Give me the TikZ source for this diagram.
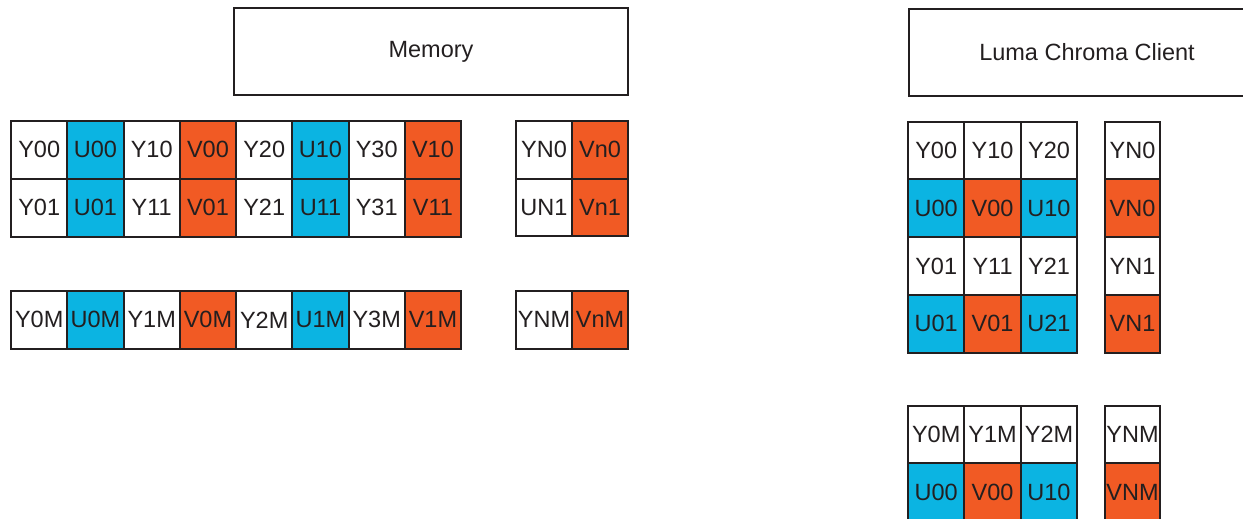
\documentclass[tikz,border=0pt]{standalone}
\usepackage{fontspec}
\setmainfont{Liberation Sans}
\usetikzlibrary{positioning}
\definecolor{Ink}{HTML}{231F20}
\definecolor{UBlue}{HTML}{0BB4E2}
\definecolor{VOrange}{HTML}{F15A24}

\begin{document}
\begin{tikzpicture}[x=1pt, y=-1pt, every node/.style={font=\fontsize{23.5}{27}\selectfont, text=Ink},
  cell/.style={draw=Ink, line width=2pt, minimum width=56.4pt, minimum height=57.7pt, inner sep=0pt, outer sep=0pt, anchor=north west},
  ycell/.style={cell, fill=white}, ucell/.style={cell, fill=UBlue}, vcell/.style={cell, fill=VOrange},
  titlebox/.style={draw=Ink, line width=2pt, minimum height=87pt, inner sep=0pt, anchor=north west}]
\useasboundingbox (0,0) rectangle (1243,519);
\clip (0,0) rectangle (1243,519);
% headers
\node[titlebox, minimum width=394pt] (memory) at (233,7) {Memory};
\node[titlebox, minimum width=356pt] (client) at (908,8) {Luma Chroma Client};
% memory layout: interleaved rows
\foreach \s/\lab [count=\c from 0] in {ycell/Y00, ucell/U00, ycell/Y10, vcell/V00, ycell/Y20, ucell/U10, ycell/Y30, vcell/V10}
  \node[\s] (mem-0-\c) at (11+\c*56.25, 121) {\lab};
\foreach \s/\lab [count=\c from 0] in {ycell/Y01, ucell/U01, ycell/Y11, vcell/V01, ycell/Y21, ucell/U11, ycell/Y31, vcell/V11}
  \node[\s] (mem-1-\c) at (11+\c*56.25, 178.8) {\lab};
\foreach \s/\lab [count=\c from 0] in {ycell/Y0M, ucell/U0M, ycell/Y1M, vcell/V0M, ycell/Y2M, ucell/U1M, ycell/Y3M, vcell/V1M}
  \node[\s] (mem-2-\c) at (11+\c*56.25, 291) {\lab};
% memory, last columns
\node[ycell, minimum width=56pt] (memn-0-0) at (516,121) {YN0};
\node[vcell, minimum width=56pt, right=0pt of memn-0-0] (memn-0-1) {Vn0};
\node[ycell, minimum width=56pt, below=0pt of memn-0-0] (memn-1-0) {UN1};
\node[vcell, minimum width=56pt, right=0pt of memn-1-0] (memn-1-1) {Vn1};
\node[ycell, minimum width=56pt] (memn-2-0) at (516,291) {YNM};
\node[vcell, minimum width=56pt, right=0pt of memn-2-0] (memn-2-1) {VnM};
% client layout: luma row, then chroma row
\foreach \s/\lab [count=\c from 0] in {ycell/Y00, ycell/Y10, ycell/Y20}
  \node[\s] (cli-0-\c) at (908+\c*56.4, 121.7) {\lab};
\foreach \s/\lab [count=\c from 0] in {ucell/U00, vcell/V00, ucell/U10}
  \node[\s] (cli-1-\c) at (908+\c*56.4, 179.4) {\lab};
\foreach \s/\lab [count=\c from 0] in {ycell/Y01, ycell/Y11, ycell/Y21}
  \node[\s] (cli-2-\c) at (908+\c*56.4, 237.1) {\lab};
\foreach \s/\lab [count=\c from 0] in {ucell/U01, vcell/V01, ucell/U21}
  \node[\s] (cli-3-\c) at (908+\c*56.4, 294.8) {\lab};
\foreach \s/\lab [count=\c from 0] in {ycell/Y0M, ycell/Y1M, ycell/Y2M}
  \node[\s] (cli-4-\c) at (908+\c*56.4, 405.7) {\lab};
\foreach \s/\lab [count=\c from 0] in {ucell/U00, vcell/V00, ucell/U10}
  \node[\s] (cli-5-\c) at (908+\c*56.4, 463.4) {\lab};
% client, last column
\foreach \s/\lab [count=\r from 0] in {ycell/YN0, vcell/VN0, ycell/YN1, vcell/VN1}
  \node[\s, minimum width=55pt] (clin-\r) at (1105, 121.7+\r*57.7) {\lab};
\node[ycell, minimum width=55pt] (clin-4) at (1105,405.7) {YNM};
\node[vcell, minimum width=55pt, below=0pt of clin-4] (clin-5) {VNM};
\end{tikzpicture}
\end{document}
